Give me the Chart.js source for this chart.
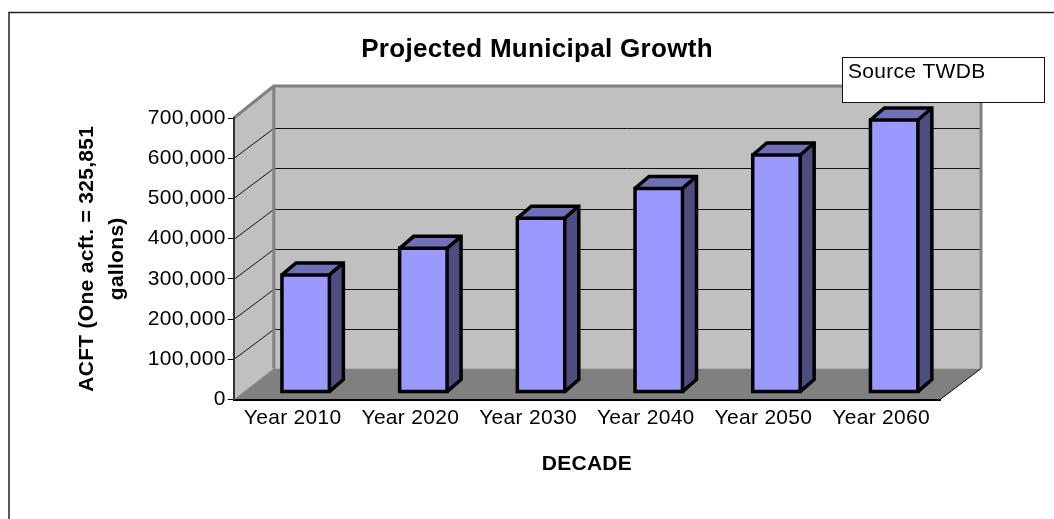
<!DOCTYPE html>
<html lang="en">
<head>
<meta charset="UTF-8">
<title>Projected Municipal Growth</title>
<script src="https://cdn.jsdelivr.net/npm/chart.js"></script>
<style>
    body { margin: 0; background: #fff; }
    canvas { display: block; }
</style>
</head>
<body>
<canvas id="chart" width="1054" height="519"></canvas>
<script>
const decades = ['Year 2010', 'Year 2020', 'Year 2030', 'Year 2040', 'Year 2050', 'Year 2060'];
const acft = [290000, 356000, 431000, 505000, 588000, 675000];
const yMax = 700000;
const yStep = 100000;
// bars stand a bit inside the floor, so their zero sits above the axis zero
const barBaseShift = 20000;

const wallDX = 40, wallDY = 32, gridDY = 30;
const barDX = 14, barDY = 12;
const barShiftX = 13;
const font = 'Arial, "Liberation Sans", sans-serif';

function poly(ctx, pts, fill, stroke, width) {
    ctx.beginPath();
    pts.forEach((p, i) => i ? ctx.lineTo(p[0], p[1]) : ctx.moveTo(p[0], p[1]));
    if (fill) { ctx.closePath(); ctx.fillStyle = fill; ctx.fill(); }
    if (stroke) { ctx.strokeStyle = stroke; ctx.lineWidth = width; ctx.stroke(); }
}

// the reference text is set a little wider than Liberation Sans
const textSpacing = {
    id: 'textSpacing',
    afterInit(chart) { chart.ctx.letterSpacing = '0.3px'; },
    beforeUpdate(chart) { chart.ctx.letterSpacing = '0.3px'; }
};

const walls = {
    id: 'walls',
    beforeDraw(chart) {
        const { ctx, chartArea: a, scales: { y } } = chart;
        const l = a.left, r = a.right, t = a.top, b = a.bottom;
        const backL = l + wallDX, backR = r + wallDX + 1, backT = t - wallDY, backB = b - wallDY + 1;
        ctx.save();
        ctx.fillStyle = '#fff';
        ctx.fillRect(0, 0, chart.width, chart.height);

        // outer frame, only top and left are inside the picture
        poly(ctx, [[9, 519], [9, 12.5], [1054, 12.5]], null, '#222', 1.5);

        poly(ctx, [[l, t], [backL, backT], [backL, backB], [l, b]], '#c0c0c0');
        poly(ctx, [[backL, backT], [backR, backT], [backR, backB], [backL, backB]], '#c0c0c0');
        poly(ctx, [[l, b], [backL, backB], [backR, backB], [r, b]], '#808080');

        y.ticks.forEach(tick => {
            if (tick.value === 0 || tick.value === yMax) return;
            const py = Math.round(y.getPixelForValue(tick.value)) + 0.5;
            poly(ctx, [[l, py], [backL, py - gridDY]], null, '#111', 1);
            poly(ctx, [[backL, py - gridDY], [backR, py - gridDY]], null, '#111', 1);
        });

        poly(ctx, [[l, t], [backL, backT], [backR, backT], [backR, backB]], null, '#808080', 3);
        poly(ctx, [[backL, backT], [backL, backB]], null, '#808080', 3);
        poly(ctx, [[l, b], [backL, backB]], null, '#a0a0a0', 1);
        poly(ctx, [[r, b], [backR, backB]], null, '#000', 1);
        ctx.restore();
    }
};

const bars3d = {
    id: 'bars3d',
    beforeDatasetDraw(chart, args) {
        const { ctx } = chart;
        ctx.save();
        ctx.translate(barShiftX, 0);
        args.meta.data.forEach(bar => {
            const x0 = bar.x - bar.width / 2, x1 = bar.x + bar.width / 2;
            poly(ctx, [[x0, bar.y], [x0 + barDX, bar.y - barDY], [x1 + barDX, bar.y - barDY], [x1, bar.y]], '#7070b8');
            poly(ctx, [[x1, bar.y], [x1 + barDX, bar.y - barDY], [x1 + barDX, bar.base - barDY], [x1, bar.base]], '#4d4d80');
        });
    },
    afterDatasetDraw(chart, args) {
        const { ctx } = chart;
        ctx.lineJoin = 'miter';
        args.meta.data.forEach(bar => {
            const x0 = bar.x - bar.width / 2, x1 = bar.x + bar.width / 2;
            poly(ctx, [[x0, bar.base], [x0, bar.y], [x1, bar.y], [x1, bar.base]]);
            ctx.closePath();
            ctx.strokeStyle = '#000';
            ctx.lineWidth = 3.5;
            ctx.stroke();
            poly(ctx, [[x0, bar.y], [x0 + barDX, bar.y - barDY], [x1 + barDX, bar.y - barDY], [x1 + barDX, bar.base - barDY], [x1, bar.base]], null, '#000', 3.5);
            poly(ctx, [[x1, bar.y], [x1 + barDX, bar.y - barDY]], null, '#000', 3.5);
        });
        ctx.restore();
    }
};

const labels = {
    id: 'labels',
    afterDraw(chart) {
        const { ctx } = chart;
        ctx.save();
        // title sits off the plot centre, so it is placed by hand
        ctx.fillStyle = '#000';
        ctx.font = 'bold 26px ' + font;
        ctx.textAlign = 'center';
        ctx.textBaseline = 'middle';
        ctx.fillText('Projected Municipal Growth', 537, 50);

        ctx.fillStyle = '#fff';
        ctx.fillRect(842.5, 57.5, 202, 45);
        ctx.strokeStyle = '#111';
        ctx.lineWidth = 1;
        ctx.strokeRect(842.5, 57.5, 202, 45);
        ctx.fillStyle = '#000';
        ctx.font = '21px ' + font;
        ctx.textAlign = 'left';
        ctx.fillText('Source TWDB', 848, 72);
        ctx.restore();
    }
};

new Chart(document.getElementById('chart'), {
    type: 'bar',
    data: {
        labels: decades,
        datasets: [{
            data: acft,
            yAxisID: 'yBars',
            backgroundColor: '#9999ff',
            borderWidth: 0,
            categoryPercentage: 1,
            barPercentage: 0.403,
            clip: false
        }]
    },
    options: {
        responsive: false,
        animation: false,
        devicePixelRatio: 1,
        layout: { padding: { left: 73, right: 114, top: 118, bottom: 42 } },
        plugins: {
            legend: { display: false },
            tooltip: { enabled: false }
        },
        scales: {
            x: {
                grid: { drawOnChartArea: false, drawTicks: false },
                border: { color: '#000', width: 2 },
                ticks: { color: '#000', font: { family: font, size: 21 }, padding: 6, maxRotation: 0, autoSkip: false },
                title: {
                    display: true,
                    text: 'DECADE',
                    color: '#000',
                    font: { family: font, size: 21, weight: 'bold' },
                    padding: { top: 15, bottom: 0 }
                }
            },
            y: {
                min: 0,
                max: yMax,
                grid: { drawOnChartArea: false, color: '#000', tickLength: 6 },
                border: { color: '#333', width: 2 },
                ticks: {
                    stepSize: yStep,
                    color: '#000',
                    padding: 2,
                    font: { family: font, size: 21 },
                    callback: v => v.toLocaleString('en-US')
                },
                title: {
                    display: true,
                    text: ['ACFT (One acft. = 325,851', 'gallons)'],
                    color: '#000',
                    font: { family: font, size: 21, weight: 'bold', lineHeight: 1.4 },
                    padding: { top: 0, bottom: 14 }
                }
            },
            yBars: {
                display: false,
                min: -barBaseShift,
                max: yMax - barBaseShift
            }
        }
    },
    plugins: [textSpacing, walls, bars3d, labels]
});
</script>
</body>
</html>
